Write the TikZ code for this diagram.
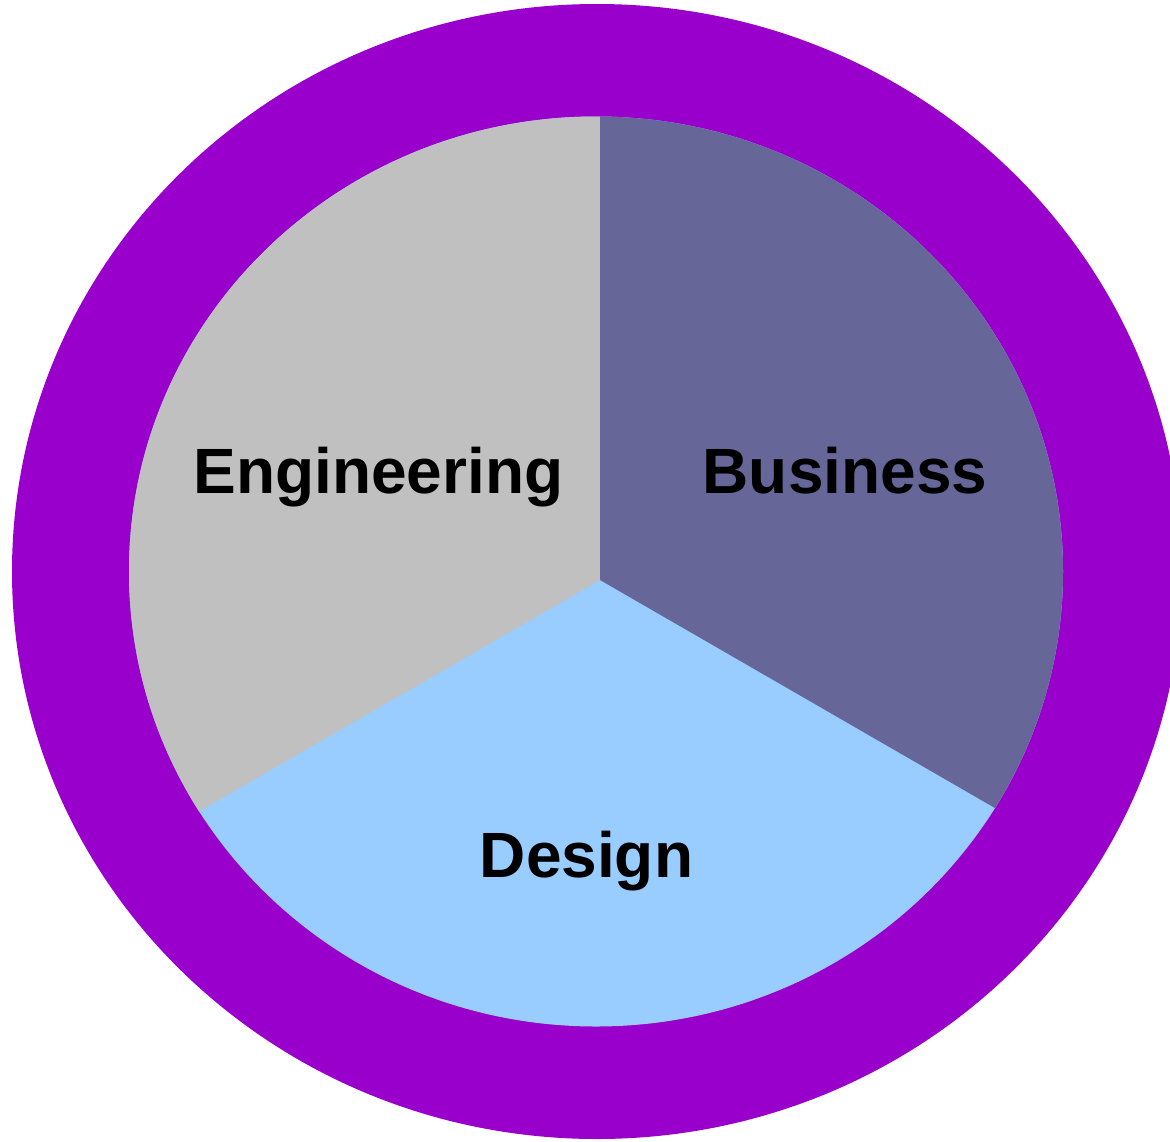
\documentclass[tikz,border=0pt]{standalone}
\usepackage{fontspec}
\setmainfont{Liberation Sans}
\definecolor{ringpurple}{HTML}{9900CC}
\definecolor{enggray}{HTML}{C0C0C0}
\definecolor{busslate}{HTML}{666699}
\definecolor{deslight}{HTML}{99CCFF}
\tikzset{lbl/.style={anchor=base,inner sep=0pt,font=\fontsize{64}{64}\selectfont\bfseries,text=black}}
\begin{document}
\begin{tikzpicture}[x=1pt,y=-1pt]
\useasboundingbox (0,0) rectangle (1170,1141);
\clip (0,0) rectangle (1170,1141);
% outer ring
\fill[ringpurple] (597,571.5) ellipse [x radius=585, y radius=567.5];
% inner pie
\coordinate (v) at (600,580);
\fill[deslight] (596,571.5) ellipse [x radius=467, y radius=455];
\begin{scope}
\clip (v) -- (600,0) -- (0,0) -- (0,926.4) -- cycle;
\fill[enggray] (596,571.5) ellipse [x radius=467, y radius=455];
\end{scope}
\begin{scope}
\clip (v) -- (600,0) -- (1170,0) -- (1170,909.1) -- cycle;
\fill[busslate] (596,571.5) ellipse [x radius=467, y radius=455];
\end{scope}
\node[lbl] (eng) at (378.5,493) {Engineering};
\node[lbl] (bus) at (845,493) {Business};
\node[lbl] (des) at (586.5,877) {Design};
\end{tikzpicture}
\end{document}
